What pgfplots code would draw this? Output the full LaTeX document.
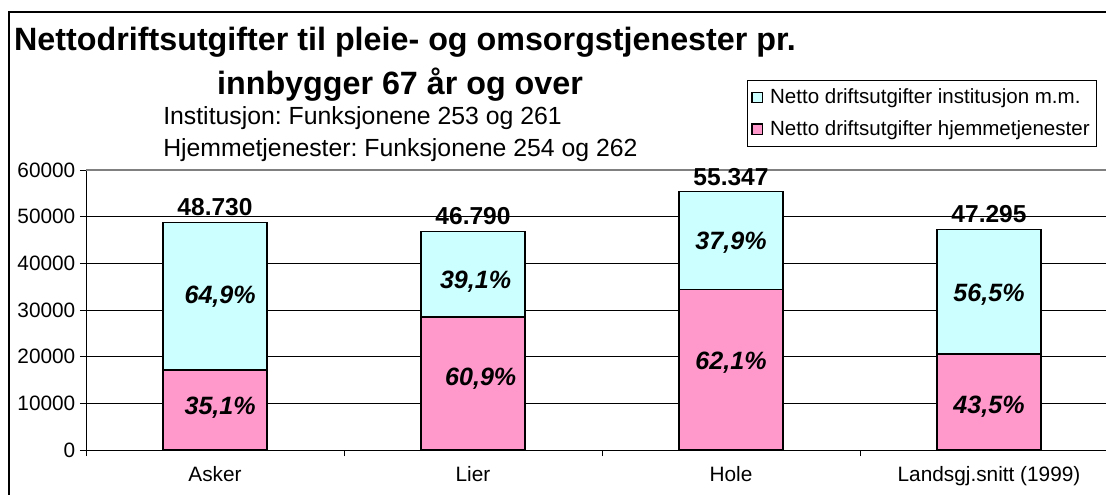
\documentclass[border=0pt]{standalone}
\usepackage{fontspec}
\setmainfont{Liberation Sans}
\usepackage{pgfplots}
\pgfplotsset{compat=1.18}
\definecolor{hjem}{HTML}{FF99CC}
\definecolor{inst}{HTML}{CCFFFF}
\definecolor{frame}{HTML}{808080}
\newcommand\tickfont{\fontsize{15.6}{18}\selectfont}
\newcommand\valfont{\fontsize{18.4}{21}\selectfont\bfseries}
\newcommand\pctfont{\fontsize{18.8}{21}\selectfont\bfseries\itshape}
\frenchspacing

\begin{document}
\begin{tikzpicture}
% outer chart frame (page crops it on the right and bottom)
\draw[black, line width=0.8pt] (6.75pt,-400pt) -- (6.75pt,-9pt) -- (860pt,-9pt);
\node[font=\fontsize{24.2}{28}\selectfont\bfseries] at (303.75pt,-31.5pt)
  {Nettodriftsutgifter til pleie- og omsorgstjenester pr.};
\node[font=\fontsize{24.2}{28}\selectfont\bfseries] at (300pt,-63.75pt)
  {innbygger 67 år og over};
\node[anchor=west, inner sep=0pt, font=\fontsize{18.6}{22}\selectfont] at (122.25pt,-88.5pt)
  {Institusjon: Funksjonene 253 og 261};
\node[anchor=west, inner sep=0pt, font=\fontsize{18.6}{22}\selectfont] at (122.25pt,-112.5pt)
  {Hjemmetjenester: Funksjonene 254 og 262};

\begin{axis}[
  at={(64.5pt,-337.5pt)}, anchor=south west, scale only axis,
  width=774pt, height=210pt,
  ybar stacked, bar width=78pt,
  xmin=-0.5, xmax=3.5, ymin=0, ymax=60000, enlarge x limits=false,
  clip=false,
  axis x line*=bottom, axis y line*=left,
  axis line style={black, line width=0.75pt},
  xtick={-0.5,0.5,1.5,2.5}, xticklabels={},
  extra x ticks={0,1,2,3},
  extra x tick labels={Asker,Lier,Hole,Landsgj.snitt (1999)},
  extra x tick style={major tick length=0pt},
  ytick={0,10000,...,60000}, scaled y ticks=false,
  ymajorgrids, grid style={black, line width=0.6pt},
  tick align=outside, major tick length=4.5pt,
  tick style={black, line width=0.6pt},
  xticklabel style={font=\tickfont, yshift=-9pt},
  yticklabel style={font=\tickfont},
  /pgf/number format/1000 sep={},
  /pgf/number format/assume math mode=true,
  reverse legend,
  legend cell align=left,
  legend style={at={(0.6405,1.3214)}, anchor=north west, draw=black,
    line width=0.6pt, font=\fontsize{15.4}{18}\selectfont,
    inner xsep=3pt, inner ysep=4.5pt, row sep=7pt},
  legend image code/.code={\draw[#1, draw=black, line width=1pt]
    (0pt,-3.9pt) rectangle (7.8pt,3.9pt); \path (11pt,0pt);},
]
\addplot[fill=hjem, draw=black, line width=1.1pt]
  coordinates {(0,17104) (1,28495) (2,34370) (3,20573)};
\addlegendentry{Netto driftsutgifter hjemmetjenester}
\addplot[fill=inst, draw=black, line width=1.1pt]
  coordinates {(0,31626) (1,18295) (2,20977) (3,26722)};
\addlegendentry{Netto driftsutgifter institusjon m.m.}

\draw[frame, line width=1.6pt] (rel axis cs:0,1) -- (rel axis cs:1,1);

% totals above bars
\coordinate (t0) at (axis cs:0,48730);
\coordinate (t1) at (axis cs:1,46790);
\coordinate (t2) at (axis cs:2,55347);
\coordinate (t3) at (axis cs:3,47295);
% shares inside segments
\coordinate (i0) at (axis cs:0.02,32800);
\coordinate (h0) at (axis cs:0.02,9000);
\coordinate (i1) at (axis cs:1.01,36100);
\coordinate (h1) at (axis cs:1.03,15350);
\coordinate (i2) at (axis cs:2.0,44350);
\coordinate (h2) at (axis cs:2.0,18650);
\coordinate (i3) at (axis cs:3.0,33200);
\coordinate (h3) at (axis cs:3.0,9200);
\end{axis}

\node[font=\valfont, anchor=base, yshift=5pt] at (t0) {48.730};
\node[font=\valfont, anchor=base, yshift=5pt] at (t1) {46.790};
\node[font=\valfont, anchor=base, yshift=5pt] at (t2) {55.347};
\node[font=\valfont, anchor=base, yshift=5pt] at (t3) {47.295};
\node[font=\pctfont] at (i0) {64,9\%};
\node[font=\pctfont] at (h0) {35,1\%};
\node[font=\pctfont] at (i1) {39,1\%};
\node[font=\pctfont] at (h1) {60,9\%};
\node[font=\pctfont] at (i2) {37,9\%};
\node[font=\pctfont] at (h2) {62,1\%};
\node[font=\pctfont] at (i3) {56,5\%};
\node[font=\pctfont] at (h3) {43,5\%};

\pgfresetboundingbox
\useasboundingbox (0pt,0pt) rectangle (829.5pt,-371.25pt);
\end{tikzpicture}
\end{document}
